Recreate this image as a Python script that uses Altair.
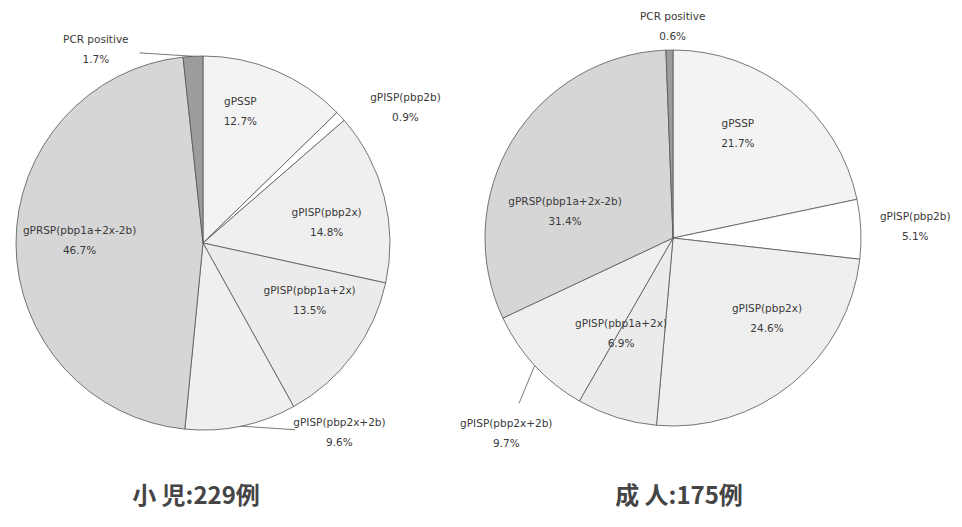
import altair as alt
import pandas as pd

# ---- data ----
categories = ["gPSSP", "gPISP(pbp2b)", "gPISP(pbp2x)", "gPISP(pbp1a+2x)",
              "gPISP(pbp2x+2b)", "gPRSP(pbp1a+2x-2b)", "PCR positive"]
child_pct = [12.7, 0.9, 14.8, 13.5, 9.6, 46.7, 1.7]
adult_pct = [21.7, 5.1, 24.6, 6.9, 9.7, 31.4, 0.6]
titles = ["小 児:229例", "成 人:175例"]

# ---- style / label layout ----
fills = ["#f3f3f3", "#ffffff", "#efefef", "#ebebeb", "#efefef", "#d6d6d6", "#9c9c9c"]
child_label_r = [0.73, 1.30, 0.67, 0.65, 1.25, 0.66, 1.18]
child_label_da = [-7, 9, 5, -8, -24, 1, -26]
child_leader = [0, 0, 0, 0, 1, 0, 1]
adult_label_r = [0.65, 1.29, 0.66, 0.58, 1.37, 0.59, 1.12]
adult_label_da = [-7, 0, -10, 11, -7, -18, 1]
adult_leader = [0, 0, 0, 0, 1, 0, 0]

LABEL_FONT = "DejaVu Sans"
LABEL_COLOR = "#3a3a3a"


def pie(values, lr, da, leader, cx, cy, R):
    df = pd.DataFrame({"idx": list(range(len(categories))), "cat": categories,
                       "value": values, "lr": lr, "da": da, "leader": leader})
    base = (
        alt.Chart(df)
        .transform_window(cum="sum(value)", sort=[alt.SortField("idx")], frame=[None, 0])
        .transform_joinaggregate(total="sum(value)")
        .transform_calculate(
            a0="2*PI*(datum.cum-datum.value)/datum.total",
            a1="2*PI*datum.cum/datum.total",
            am="PI*(2*datum.cum-datum.value)/datum.total",
        )
        .transform_calculate(al="datum.am + datum.da*PI/180")
        .transform_calculate(
            lx=f"{cx} + datum.lr*{R}*sin(datum.al)",
            ly=f"{cy} - datum.lr*{R}*cos(datum.al)",
            ex=f"{cx} + {R}*sin(datum.am)",
            ey=f"{cy} - {R}*cos(datum.am)",
            pct="format(datum.value, '.1f') + '%'",
        )
        .transform_calculate(
            mx="datum.ex + 0.55*(datum.lx-datum.ex)",
            my="datum.ey + 0.55*(datum.ly-datum.ey)",
        )
    )
    arc = base.mark_arc(outerRadius=R, stroke="#555555", strokeWidth=0.8).encode(
        theta=alt.Theta("a0:Q", scale=None),
        theta2="a1:Q",
        color=alt.Color("cat:N", scale=alt.Scale(domain=categories, range=fills), legend=None),
        x=alt.value(cx),
        y=alt.value(cy),
    )
    lead = base.transform_filter("datum.leader == 1").mark_rule(
        color="#555555", strokeWidth=0.8
    ).encode(
        x=alt.X("ex:Q", scale=None, axis=None),
        y=alt.Y("ey:Q", scale=None, axis=None),
        x2="mx:Q",
        y2="my:Q",
    )
    name = base.mark_text(font=LABEL_FONT, fontSize=10.5, color=LABEL_COLOR, dy=-10).encode(
        x=alt.X("lx:Q", scale=None, axis=None),
        y=alt.Y("ly:Q", scale=None, axis=None),
        text="cat:N",
    )
    pct = base.mark_text(font=LABEL_FONT, fontSize=10.5, color=LABEL_COLOR, dy=10).encode(
        x=alt.X("lx:Q", scale=None, axis=None),
        y=alt.Y("ly:Q", scale=None, axis=None),
        text="pct:N",
    )
    return [arc, lead, name, pct]


left = pie(child_pct, child_label_r, child_label_da, child_leader, 203, 243, 187)
right = pie(adult_pct, adult_label_r, adult_label_da, adult_leader, 673, 238, 188)

tdf = pd.DataFrame({"t": titles})
title_l = alt.Chart(tdf).transform_filter(f"datum.t == '{titles[0]}'").mark_text(
    font="Noto Sans CJK JP", fontSize=24, fontWeight="bold", color="#454545"
).encode(x=alt.value(196), y=alt.value(497), text="t:N")
title_r = alt.Chart(tdf).transform_filter(f"datum.t == '{titles[1]}'").mark_text(
    font="Noto Sans CJK JP", fontSize=24, fontWeight="bold", color="#454545"
).encode(x=alt.value(679), y=alt.value(497), text="t:N")

chart = (
    alt.layer(*left, *right, title_l, title_r)
    .properties(width=962, height=527, autosize=alt.AutoSizeParams(type="none"), padding=0,
                background="white")
    .configure_view(stroke=None)
)

chart.save("out.html", embed_options={"renderer": "svg", "actions": False})
